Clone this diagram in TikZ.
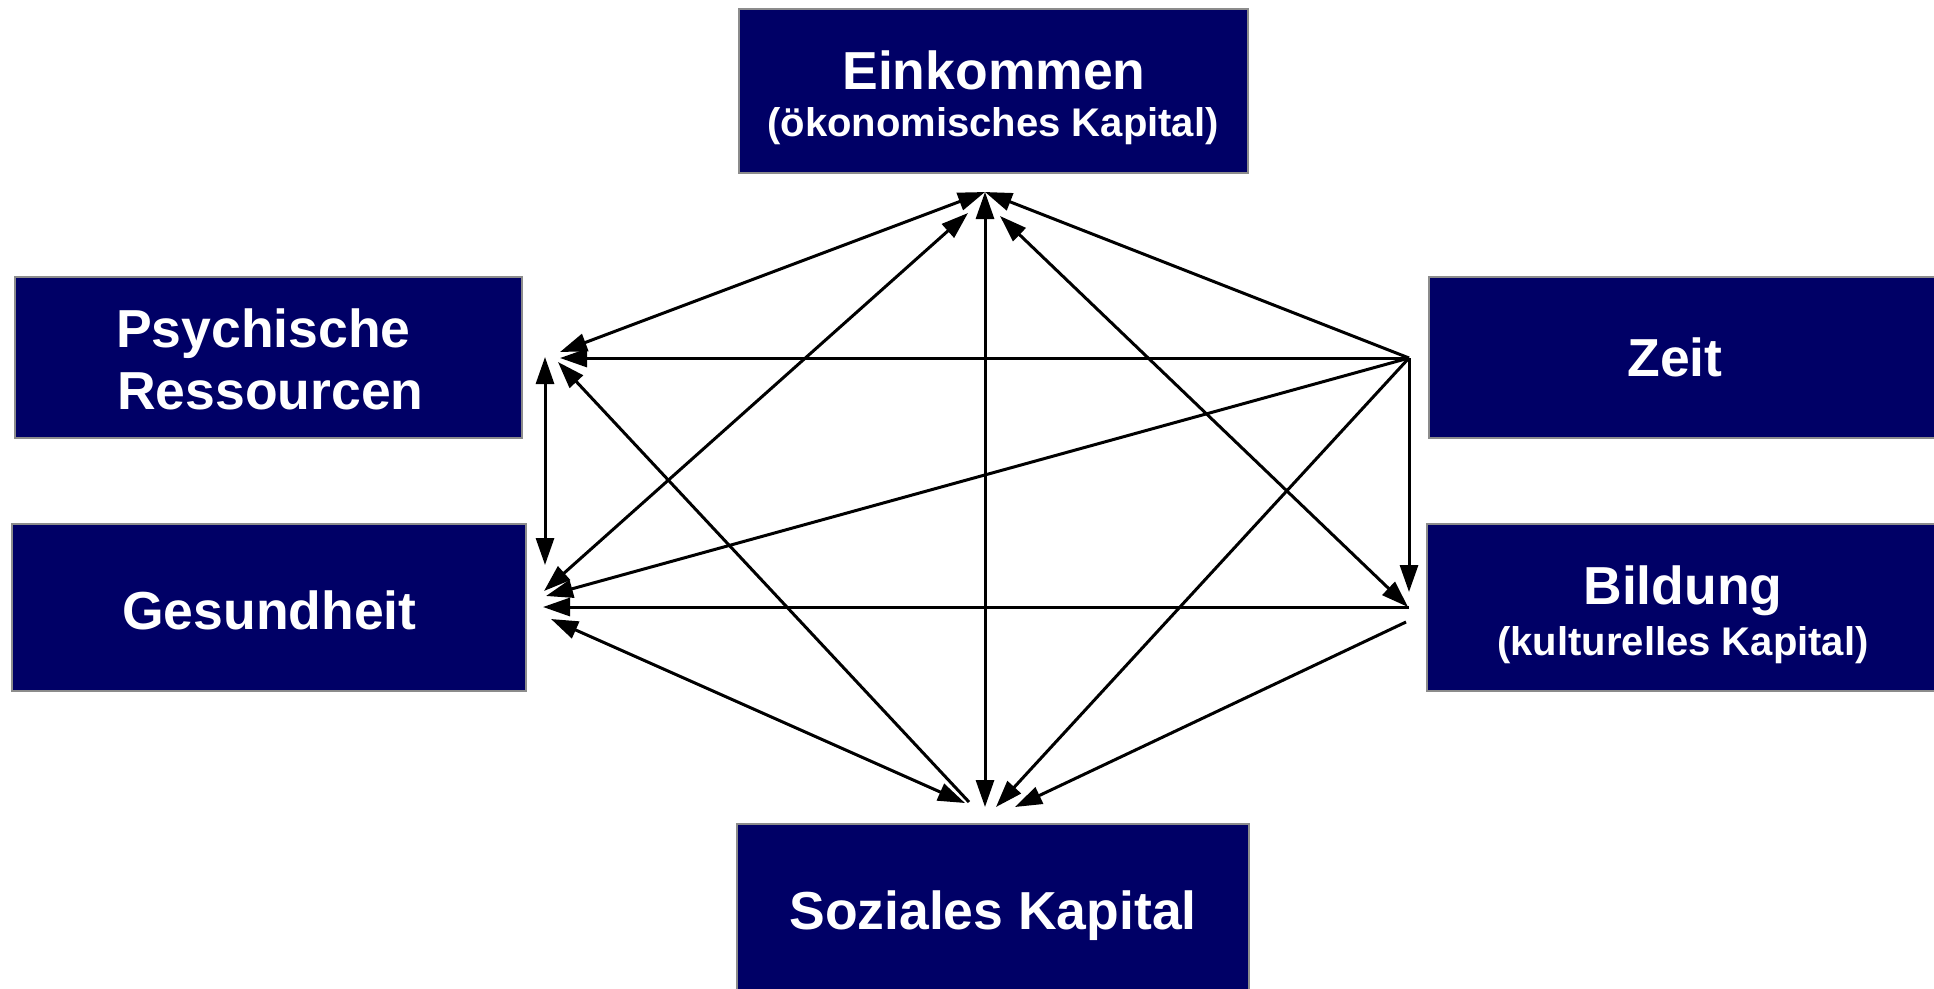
\documentclass[tikz,border=0pt]{standalone}
\usepackage{fontspec}
\setmainfont{Liberation Sans}
\usetikzlibrary{arrows.meta}
\definecolor{navy}{RGB}{0,0,102}
\begin{document}
\begin{tikzpicture}[x=1pt,y=-1pt,
  box/.style={fill=navy, draw=black!45, line width=1.2pt, inner sep=0pt},
  ttl/.style={text=white, font=\fontsize{53.5pt}{60pt}\selectfont\bfseries, inner sep=0pt, anchor=base},
  sub/.style={text=white, font=\fontsize{40pt}{46pt}\selectfont\bfseries, inner sep=0pt, anchor=base},
  link/.style={line width=3pt, draw=black},
  onetip/.style={link, -{Triangle[length=27pt 0,width=18pt 0]}},
  twotips/.style={link, {Triangle[length=27pt 0,width=18pt 0]}-{Triangle[length=27pt 0,width=18pt 0]}},
]
\useasboundingbox (0,0) rectangle (1934,988);

% boxes
\node[box, minimum width=509pt, minimum height=164pt] (ein) at (993.5,91) {};
\node[box, minimum width=507pt, minimum height=161pt] (psy) at (268.5,357.5) {};
\node[box, minimum width=511pt, minimum height=161pt] (zeit) at (1684.5,357.5) {};
\node[box, minimum width=514pt, minimum height=167pt] (ges) at (269,607.5) {};
\node[box, minimum width=513pt, minimum height=167pt] (bil) at (1683.5,607.5) {};
\node[box, minimum width=512pt, minimum height=171pt] (soz) at (993,909.5) {};

% texts
\node[ttl] (ein-t) at (994,89) {Einkommen};
\node[sub] (ein-s) at (993,136) {(ökonomisches Kapital)};
\node[ttl, anchor=base west] (psy-1) at (116,347) {Psychische};
\node[ttl, anchor=base west] (psy-2) at (117,409.5) {Ressourcen};
\node[ttl] (zeit-t) at (1675,376) {Zeit};
\node[ttl] (ges-t) at (269.5,629) {Gesundheit};
\node[ttl] (bil-t) at (1683,604) {Bildung};
\node[sub] (bil-s) at (1683,655) {(kulturelles Kapital)};
\node[ttl] (soz-t) at (993,929) {Soziales Kapital};

% connector ends
\coordinate (E0) at (985,192);
\coordinate (Eg) at (968,213);
\coordinate (Eb) at (1000,216);
\coordinate (Pa) at (560,352);
\coordinate (Pz) at (560,358);
\coordinate (Ps) at (558,362);
\coordinate (Pv) at (545,357);
\coordinate (Gv) at (545,565);
\coordinate (Ge) at (544,591);
\coordinate (Gz) at (546,596);
\coordinate (Gh) at (543,607);
\coordinate (Gs) at (551,619);
\coordinate (Z0) at (1409,358);
\coordinate (Be) at (1408,607);
\coordinate (Bh) at (1409,607);
\coordinate (Bz) at (1409,592);
\coordinate (Bs) at (1406,622);
\coordinate (Sg) at (965,803);
\coordinate (Sp) at (969,802);
\coordinate (Sv) at (985,807);
\coordinate (Sz) at (996,807);
\coordinate (Sb) at (1015,807);

% connectors
\draw[twotips] (E0) -- (Pa);
\draw[twotips] (Eg) -- (Ge);
\draw[twotips] (E0) -- (Sv);
\draw[twotips] (Eb) -- (Be);
\draw[onetip] (Z0) -- (E0);
\draw[onetip] (Z0) -- (Pz);
\draw[onetip] (Z0) -- (Gz);
\draw[onetip] (Z0) -- (Bz);
\draw[onetip] (Z0) -- (Sz);
\draw[onetip] (Bh) -- (Gh);
\draw[onetip] (Bs) -- (Sb);
\draw[twotips] (Pv) -- (Gv);
\draw[onetip] (Sp) -- (Ps);
\draw[twotips] (Gs) -- (Sg);
\end{tikzpicture}
\end{document}
